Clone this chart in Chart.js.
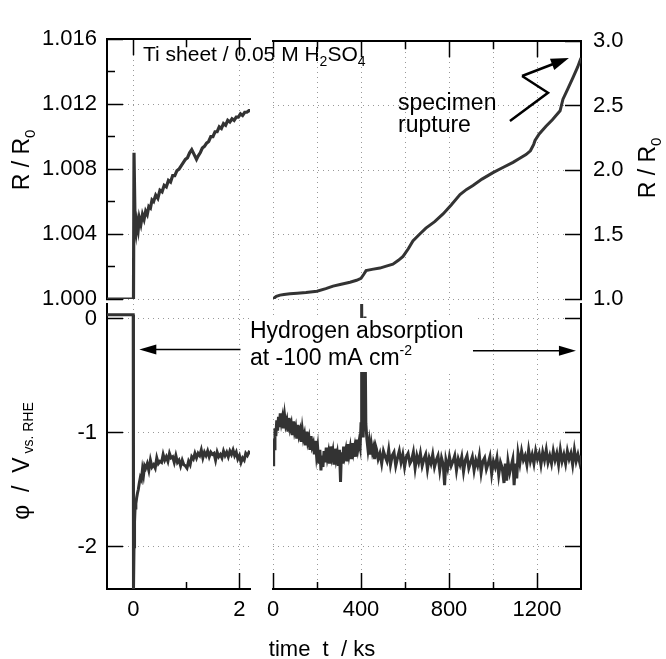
<!DOCTYPE html>
<html>
<head>
<meta charset="utf-8">
<script src="https://cdn.jsdelivr.net/npm/chart.js@4.4.1/dist/chart.umd.min.js"></script>
<style>
body{margin:0;background:#fff;}
#wrap{position:relative;width:666px;height:659px;}
#wrap canvas{position:absolute;left:0;top:0;}
</style>
</head>
<body>
<div id="wrap">
<canvas id="tl" width="666" height="659"></canvas>
<canvas id="tr" width="666" height="659"></canvas>
<canvas id="bl" width="666" height="659"></canvas>
<canvas id="br" width="666" height="659"></canvas>
</div>
<script>
// ---- data (time in ks) ----
// early run, R/R0
var tShortR = [-0.5, -0.01, 0.0, 0.01, 0.03, 0.05, 0.07, 0.09, 0.11, 0.14, 0.17, 0.2, 0.23, 0.26, 0.29, 0.32, 0.35, 0.38, 0.42, 0.46, 0.5, 0.54, 0.58, 0.62, 0.66, 0.7, 0.74, 0.78, 0.82, 0.86, 0.9, 0.94, 0.98, 1.02, 1.06, 1.1, 1.13, 1.16, 1.19, 1.22, 1.26, 1.3, 1.34, 1.38, 1.42, 1.46, 1.5, 1.54, 1.58, 1.62, 1.66, 1.7, 1.74, 1.78, 1.82, 1.86, 1.9, 1.94, 1.98, 2.02, 2.06, 2.1, 2.14, 2.18, 2.21];
var rShort = [1.0000, 1.0000, 1.0000, 1.0090, 1.0046, 1.0041, 1.0047, 1.0043, 1.0050, 1.0046, 1.0052, 1.0049, 1.0054, 1.0052, 1.0057, 1.0056, 1.0061, 1.0060, 1.0064, 1.0062, 1.0067, 1.0066, 1.0070, 1.0069, 1.0073, 1.0072, 1.0076, 1.0076, 1.0079, 1.0080, 1.0082, 1.0084, 1.0086, 1.0087, 1.0090, 1.0092, 1.0090, 1.0088, 1.0086, 1.0088, 1.0090, 1.0093, 1.0094, 1.0096, 1.0097, 1.0100, 1.0100, 1.0103, 1.0103, 1.0106, 1.0105, 1.0108, 1.0107, 1.0110, 1.0109, 1.0111, 1.0110, 1.0112, 1.0112, 1.0114, 1.0113, 1.0115, 1.0115, 1.0116, 1.0116];

// long run, R/R0
var tLongR = [0, 15, 32, 50, 77, 110, 150, 200, 240, 273, 310, 350, 380, 400, 412, 423, 450, 486, 515, 545, 570, 591, 615, 636, 665, 695, 735, 773, 810, 850, 880, 909, 950, 1000, 1045, 1091, 1120, 1150, 1170, 1185, 1191, 1210, 1241, 1270, 1305, 1318, 1340, 1364, 1385, 1400];
var rLong = [1.00, 1.02, 1.03, 1.035, 1.04, 1.045, 1.05, 1.06, 1.08, 1.10, 1.115, 1.13, 1.145, 1.16, 1.19, 1.22, 1.23, 1.24, 1.255, 1.27, 1.30, 1.33, 1.39, 1.45, 1.50, 1.55, 1.60, 1.66, 1.73, 1.81, 1.85, 1.88, 1.93, 1.98, 2.02, 2.06, 2.09, 2.12, 2.15, 2.20, 2.23, 2.28, 2.34, 2.39, 2.46, 2.55, 2.63, 2.72, 2.80, 2.87];

// early run, potential (V vs RHE)
var tShortPhi = [-0.5, -0.005, 0.0, 0.01, 0.02, 0.03, 0.045, 0.06, 0.075, 0.09, 0.11, 0.13, 0.15, 0.17, 0.19, 0.21, 0.23, 0.26, 0.29, 0.32, 0.35, 0.38, 0.41, 0.44, 0.47, 0.5, 0.53, 0.56, 0.59, 0.62, 0.65, 0.68, 0.71, 0.74, 0.77, 0.8, 0.83, 0.86, 0.89, 0.92, 0.95, 0.98, 1.01, 1.04, 1.07, 1.1, 1.13, 1.16, 1.19, 1.22, 1.25, 1.28, 1.31, 1.34, 1.37, 1.4, 1.43, 1.46, 1.49, 1.52, 1.55, 1.58, 1.61, 1.64, 1.67, 1.7, 1.73, 1.76, 1.79, 1.82, 1.85, 1.88, 1.91, 1.94, 1.97, 2.0, 2.03, 2.06, 2.09, 2.12, 2.15, 2.18, 2.21];
var phiShort = [0.035, 0.035, -2.4, -2.0, -1.78, -1.66, -1.62, -1.57, -1.53, -1.50, -1.44, -1.39, -1.41, -1.32, -1.37, -1.29, -1.31, -1.27, -1.33, -1.24, -1.30, -1.28, -1.31, -1.22, -1.27, -1.25, -1.26, -1.19, -1.24, -1.21, -1.25, -1.18, -1.22, -1.21, -1.26, -1.20, -1.26, -1.24, -1.29, -1.24, -1.28, -1.29, -1.31, -1.25, -1.28, -1.21, -1.23, -1.18, -1.22, -1.18, -1.20, -1.15, -1.22, -1.17, -1.20, -1.16, -1.21, -1.17, -1.19, -1.18, -1.24, -1.17, -1.21, -1.19, -1.22, -1.16, -1.20, -1.17, -1.21, -1.16, -1.19, -1.15, -1.20, -1.17, -1.23, -1.20, -1.26, -1.22, -1.24, -1.18, -1.20, -1.17, -1.18];

// long run, potential (V vs RHE)
var tLongPhi = [0, 3, 6, 9, 13, 17, 21, 25, 29, 33, 38, 43, 48, 53, 58, 63, 68, 73, 78, 83, 88, 93, 98, 103, 108, 113, 118, 123, 128, 133, 138, 143, 148, 153, 158, 163, 168, 173, 178, 183, 188, 193, 198, 203, 208, 213, 218, 222, 227, 232, 237, 242, 247, 252, 257, 262, 267, 272, 277, 282, 287, 292, 297, 302, 307, 311, 316, 321, 326, 331, 336, 341, 346, 351, 356, 361, 366, 371, 376, 381, 386, 391, 396, 400, 403, 406, 410, 414, 418, 422, 427, 432, 437, 442, 447, 452, 457, 462, 467,
    470, 478, 486, 494, 502, 510, 518, 526, 534, 542, 550, 558, 566, 574, 582, 590, 598, 606, 614, 622, 630, 638, 646, 654, 662, 670, 678, 686, 694, 702, 710, 718, 726, 734, 742, 750, 758, 766, 774, 780, 786, 794, 802, 810, 818, 826, 834, 842, 850, 858, 866, 874, 882, 890, 898, 906, 914, 922, 930, 938, 946, 954, 962, 970, 978, 986, 994, 1002, 1010, 1018, 1026, 1034, 1042, 1050, 1056, 1062, 1068, 1076, 1084, 1090, 1096, 1102, 1108, 1114, 1122, 1130, 1138, 1146, 1154, 1162, 1170, 1178, 1186, 1194, 1202, 1210, 1218, 1226, 1234, 1242, 1250, 1258, 1266, 1274, 1282, 1290, 1298, 1306, 1314, 1322, 1330, 1338, 1346, 1354, 1362, 1370, 1378, 1386, 1394, 1400];
var phiLong = [-1.28, -1.05, -1.14, -0.96, -1.03, -0.89, -0.98, -0.86, -0.95, -0.83, -0.91, -0.86, -0.96, -0.85, -0.93, -0.89, -0.99, -0.87, -0.96, -0.92, -1.02, -0.90, -0.99, -0.95, -1.05, -0.93, -1.02, -0.98, -1.08, -0.97, -1.05, -1.01, -1.11, -0.99, -1.08, -1.04, -1.15, -1.03, -1.12, -1.09, -1.19, -1.07, -1.20, -1.13, -1.27, -1.15, -1.33, -1.20, -1.30, -1.16, -1.26, -1.13, -1.22, -1.17, -1.27, -1.12, -1.21, -1.16, -1.28, -1.14, -1.23, -1.18, -1.29, -1.15, -1.43, -1.17, -1.27, -1.12, -1.20, -1.15, -1.25, -1.10, -1.19, -1.13, -1.23, -1.09, -1.17, -1.12, -1.21, -1.06, -1.14, -1.08, -1.13, -0.92, 0.14, -0.96, -1.04, -0.62, 0.02, -0.92, -1.06, -1.15, -1.08, -1.19, -1.10, -1.17, -1.13, -1.23, -1.12,
    -1.14, -1.23, -1.18, -1.27, -1.16, -1.21, -1.25, -1.15, -1.28, -1.20, -1.17, -1.29, -1.22, -1.16, -1.26, -1.19, -1.30, -1.21, -1.18, -1.27, -1.24, -1.17, -1.31, -1.20, -1.26, -1.18, -1.29, -1.23, -1.19, -1.32, -1.22, -1.27, -1.19, -1.30, -1.24, -1.20, -1.33, -1.22, -1.28, -1.46, -1.24, -1.31, -1.21, -1.29, -1.25, -1.20, -1.33, -1.23, -1.28, -1.21, -1.34, -1.24, -1.20, -1.31, -1.26, -1.21, -1.33, -1.24, -1.29, -1.20, -1.35, -1.25, -1.22, -1.32, -1.27, -1.21, -1.36, -1.25, -1.30, -1.22, -1.37, -1.26, -1.31, -1.44, -1.27, -1.42, -1.25, -1.35, -1.28, -1.23, -1.46, -1.27, -1.40, -1.18, -1.27, -1.16, -1.24, -1.20, -1.28, -1.15, -1.25, -1.19, -1.27, -1.16, -1.23, -1.18, -1.28, -1.17, -1.24, -1.15, -1.26, -1.20, -1.27, -1.16, -1.24, -1.18, -1.28, -1.15, -1.25, -1.19, -1.27, -1.16, -1.23, -1.18, -1.28, -1.15, -1.25, -1.19, -1.26, -1.20];

// ---- ticks ----
var ticksShort = [0, 1, 2];
var labelsShort = [0, 2];
var ticksLong = [0, 200, 400, 600, 800, 1000, 1200];
var labelsLong = [0, 400, 800, 1200];
var ticksRLeft = [1.000, 1.002, 1.004, 1.006, 1.008, 1.010, 1.012, 1.014, 1.016];
var labelsRLeft = [1.000, 1.004, 1.008, 1.012, 1.016];
var ticksRRight = [1.0, 1.5, 2.0, 2.5, 3.0];
var ticksPhi = [0, -1, -2];

var FONT = '"Liberation Sans", Arial, Helvetica, sans-serif';
var INK = '#000';
var TRACE = '#333';
Chart.defaults.font.family = FONT;
Chart.defaults.color = INK;

function isIn(arr, v) {
    return arr.some(function (a) { return Math.abs(a - v) < 1e-9; });
}

function pts(t, v) {
    return t.map(function (x, i) { return {x: x, y: v[i]}; });
}

// text with sub/superscripts: parts = [text, size, baselineShift]
function rich(ctx, x, y, parts, rotate, center) {
    ctx.save();
    ctx.translate(x, y);
    if (rotate) ctx.rotate(rotate);
    ctx.fillStyle = INK;
    ctx.textAlign = 'left';
    ctx.textBaseline = 'alphabetic';
    var w = 0;
    parts.forEach(function (p) { ctx.font = p[1] + 'px ' + FONT; w += ctx.measureText(p[0]).width; });
    var cx = center ? -w / 2 : 0;
    parts.forEach(function (p) {
        ctx.font = p[1] + 'px ' + FONT;
        ctx.fillText(p[0], cx, p[2] || 0);
        cx += ctx.measureText(p[0]).width;
    });
    ctx.restore();
}

function arrowHead(ctx, x1, y1, x2, y2, len, half) {
    var a = Math.atan2(y2 - y1, x2 - x1);
    var c = Math.cos(a), s = Math.sin(a);
    ctx.beginPath();
    ctx.moveTo(x1, y1);
    ctx.lineTo(x2 - len * 0.7 * c, y2 - len * 0.7 * s);
    ctx.stroke();
    ctx.beginPath();
    ctx.moveTo(x2, y2);
    ctx.lineTo(x2 - len * c + half * s, y2 - len * s - half * c);
    ctx.lineTo(x2 - len * c - half * s, y2 - len * s + half * c);
    ctx.closePath();
    ctx.fill();
}

function axis(o) {
    var horiz = o.position === 'top' || o.position === 'bottom';
    var fromBorder = o.position === 'bottom' || o.position === 'right';
    var labels = o.labels || [];
    return {
        type: 'linear',
        position: o.position,
        min: o.min,
        max: o.max,
        afterBuildTicks: function (s) {
            s.ticks = o.ticks.map(function (v) { return {value: v}; });
        },
        afterFit: function (s) {
            if (horiz) s.height = o.size; else s.width = o.size;
        },
        border: {display: true, color: INK, width: 2, dash: [1, 4]},
        grid: {
            color: function (c) { return c.tick && isIn(o.grid, c.tick.value) ? '#999' : 'transparent'; },
            lineWidth: 1,
            tickLength: -16,
            tickWidth: 1.5,
            tickColor: INK,
            tickBorderDash: function (c) {
                if (!c.tick || isIn(o.major, c.tick.value)) return [];
                return fromBorder ? [8, 100] : [0, 8, 8, 100];
            }
        },
        ticks: {
            display: labels.length > 0,
            autoSkip: false,
            maxRotation: 0,
            padding: o.pad || 0,
            font: {size: 22},
            color: INK,
            callback: function (v) { return isIn(labels, v) ? o.fmt(v) : ''; }
        }
    };
}

function panel(id, t, v, lw, pad, xAxis, yAxis, draw) {
    return new Chart(document.getElementById(id), {
        type: 'line',
        data: {datasets: [{data: pts(t, v), borderColor: TRACE, borderWidth: lw, pointRadius: 0, tension: 0}]},
        options: {
            responsive: false,
            animation: false,
            devicePixelRatio: 1,
            events: [],
            layout: {padding: pad, autoPadding: false},
            plugins: {legend: {display: false}, tooltip: {enabled: false}},
            scales: {x: xAxis, y: yAxis}
        },
        plugins: [{id: 'notes_' + id, afterDraw: draw}]
    });
}

var fmtInt = function (v) { return String(v); };

// top left: R/R0, short time
panel('tl', tShortR, rShort, 3.2,
    {left: 0, top: 0, right: 416, bottom: 360},
    axis({position: 'top', min: -0.5, max: 2.2, ticks: ticksShort, major: labelsShort, grid: labelsShort, size: 21}),
    axis({position: 'left', min: 1.0, max: 1.016, ticks: ticksRLeft, major: labelsRLeft, grid: labelsRLeft,
          labels: labelsRLeft, fmt: function (v) { return v.toFixed(3); }, size: 107, pad: 26}),
    function (chart) {
        var ctx = chart.ctx;
        rich(ctx, 29, 160, [['R / R', 23], ['0', 15, 6]], -Math.PI / 2, true);
        rich(ctx, 143, 61, [['Ti sheet / 0.05 M H', 21], ['2', 14, 5], ['SO', 21], ['4', 14, 5]]);
    });

// top right: R/R0, long time
panel('tr', tLongR, rLong, 3,
    {left: 273, top: 0, right: 0, bottom: 360},
    axis({position: 'top', min: 0, max: 1400, ticks: ticksLong, major: labelsLong, grid: ticksLong, size: 21}),
    axis({position: 'right', min: 1.0, max: 3.0, ticks: ticksRRight, major: ticksRRight, grid: ticksRRight,
          labels: ticksRRight, fmt: function (v) { return v.toFixed(1); }, size: 85, pad: 28}),
    function (chart) {
        var ctx = chart.ctx, x = chart.scales.x, y = chart.scales.y;
        rich(ctx, 655, 168, [['R / R', 23], ['0', 15, 6]], -Math.PI / 2, true);
        rich(ctx, 398, 110, [['specimen', 23]]);
        rich(ctx, 398, 132, [['rupture', 23]]);
        ctx.save();
        ctx.strokeStyle = INK; ctx.fillStyle = INK; ctx.lineWidth = 2.5;
        ctx.lineJoin = 'miter';
        ctx.beginPath();
        ctx.moveTo(x.getPixelForValue(1077), y.getPixelForValue(2.38));
        ctx.lineTo(x.getPixelForValue(1250), y.getPixelForValue(2.60));
        ctx.lineTo(x.getPixelForValue(1132), y.getPixelForValue(2.73));
        ctx.stroke();
        arrowHead(ctx, x.getPixelForValue(1132), y.getPixelForValue(2.73),
            x.getPixelForValue(1345), y.getPixelForValue(2.87), 18, 6);
        ctx.restore();
    });

// bottom left: potential, short time
panel('bl', tShortPhi, phiShort, 3,
    {left: 0, top: 304, right: 416, bottom: 0},
    axis({position: 'bottom', min: -0.5, max: 2.2, ticks: ticksShort, major: labelsShort, grid: labelsShort,
          labels: labelsShort, fmt: fmtInt, size: 70, pad: 24}),
    axis({position: 'left', min: -2.37, max: 0.13, ticks: ticksPhi, major: ticksPhi, grid: ticksPhi,
          labels: ticksPhi, fmt: fmtInt, size: 107, pad: 26}),
    function (chart) {
        var ctx = chart.ctx, x = chart.scales.x, y = chart.scales.y;
        rich(ctx, 29, 461, [['\u03c6  /  V', 23], [' vs. RHE', 14, 4]], -Math.PI / 2, true);
        rich(ctx, 322, 656, [['time  t  / ks', 22]], 0, true);
        ctx.save();
        ctx.strokeStyle = INK; ctx.fillStyle = INK; ctx.lineWidth = 1.5;
        arrowHead(ctx, x.getPixelForValue(2.02), y.getPixelForValue(-0.27),
            x.getPixelForValue(0.11), y.getPixelForValue(-0.27), 17, 5);
        ctx.restore();
    });

// bottom right: potential, long time
panel('br', tLongPhi, phiLong, 3,
    {left: 273, top: 304, right: 0, bottom: 0},
    axis({position: 'bottom', min: 0, max: 1400, ticks: ticksLong, major: labelsLong, grid: ticksLong,
          labels: labelsLong, fmt: fmtInt, size: 70, pad: 24}),
    axis({position: 'right', min: -2.37, max: 0.13, ticks: ticksPhi, major: ticksPhi, grid: ticksPhi, size: 85}),
    function (chart) {
        var ctx = chart.ctx, x = chart.scales.x, y = chart.scales.y;
        ctx.save();
        ctx.fillStyle = '#fff';
        ctx.fillRect(252, 318, 222, 54);
        ctx.restore();
        rich(ctx, 250, 338, [['Hydrogen absorption', 23]]);
        rich(ctx, 250, 365, [['at -100 mA cm', 23], ['-2', 14, -10]]);
        ctx.save();
        ctx.strokeStyle = INK; ctx.fillStyle = INK; ctx.lineWidth = 1.5;
        arrowHead(ctx, x.getPixelForValue(909), y.getPixelForValue(-0.28),
            x.getPixelForValue(1377), y.getPixelForValue(-0.28), 17, 5);
        ctx.restore();
    });
</script>
</body>
</html>
